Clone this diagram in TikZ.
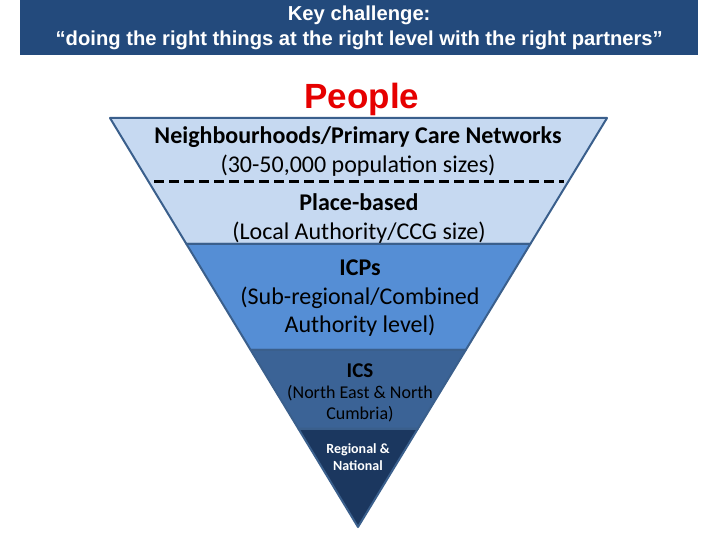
\documentclass[tikz,border=0pt]{standalone}
\usepackage{fontspec}
\setmainfont{Carlito}
\newfontfamily\headfont{Liberation Sans}
\usetikzlibrary{calc}
\definecolor{Banner}{HTML}{234A7C}
\definecolor{Pale}{HTML}{C6D9F1}
\definecolor{Mid}{HTML}{558ED5}
\definecolor{Deep}{HTML}{3B6396}
\definecolor{Navy}{HTML}{1B375F}
\definecolor{Edge}{HTML}{3A5F8C}
\definecolor{Alert}{HTML}{E60000}

\begin{document}
\begin{tikzpicture}[x=1pt, y=-1pt,
    band/.style={draw=Edge, line width=2pt, line join=round},
    lbl/.style={align=center, inner sep=0pt}]
  \useasboundingbox (0,0) rectangle (720,540);
  \fill[white] (0,0) rectangle (720,540);

  % banner
  \node[fill=Banner, text=white, minimum width=678pt, minimum height=55pt, inner sep=0pt,
    anchor=north west, align=center, font=\headfont\bfseries\fontsize{20.2}{25}\selectfont] (banner) at (20,0)
    {Key challenge:\\“doing the right things at the right level with the right partners”};
  \node[lbl, text=Alert, font=\headfont\bfseries\fontsize{35}{40}\selectfont] (people) at (362,99) {People};

  % triangle corners and band edges
  \coordinate (tl) at (110,118);
  \coordinate (tr) at (607,118);
  \coordinate (tip) at (358,527);
  \coordinate (l2) at ($(tl)!0.308!(tip)$); \coordinate (r2) at ($(tr)!0.308!(tip)$);
  \coordinate (l3) at ($(tl)!0.567!(tip)$); \coordinate (r3) at ($(tr)!0.567!(tip)$);
  \coordinate (l4) at ($(tl)!0.760!(tip)$); \coordinate (r4) at ($(tr)!0.760!(tip)$);
  \coordinate (dl) at (154,182);
  \coordinate (dr) at (564,182);

  \filldraw[band, fill=Pale] (tl) -- (tr) -- (r2) -- (l2) -- cycle;
  \filldraw[band, fill=Mid] (l2) -- (r2) -- (r3) -- (l3) -- cycle;
  \filldraw[band, fill=Deep] (l3) -- (r3) -- (r4) -- (l4) -- cycle;
  \filldraw[band, fill=Navy] (l4) -- (r4) -- (tip) -- cycle;
  \draw[line width=3pt, dash pattern=on 10pt off 5pt] (dl) -- (dr);

  % labels
  \node[lbl, font=\fontsize{24}{28.5}\selectfont] (hood) at (358,151.5)
    {\textbf{Neighbourhoods/Primary Care Networks}\\(30-50,000 population sizes)};
  \node[lbl, font=\fontsize{24}{29}\selectfont] (place) at (359,218.5)
    {\textbf{Place-based}\\(Local Authority/CCG size)};
  \node[lbl, font=\fontsize{24}{28.5}\selectfont] (icp) at (360,298.5)
    {\textbf{ICPs}\\(Sub-regional/Combined\\Authority level)};
  \node[lbl, font=\fontsize{18}{21}\selectfont] (ics) at (360,392.5)
    {{\fontsize{21}{22}\selectfont\textbf{ICS}}\\(North East \& North\\Cumbria)};
  \node[lbl, text=white, font=\bfseries\fontsize{14}{17}\selectfont] (nat) at (358,457.5)
    {Regional \&\\National};
\end{tikzpicture}
\end{document}
